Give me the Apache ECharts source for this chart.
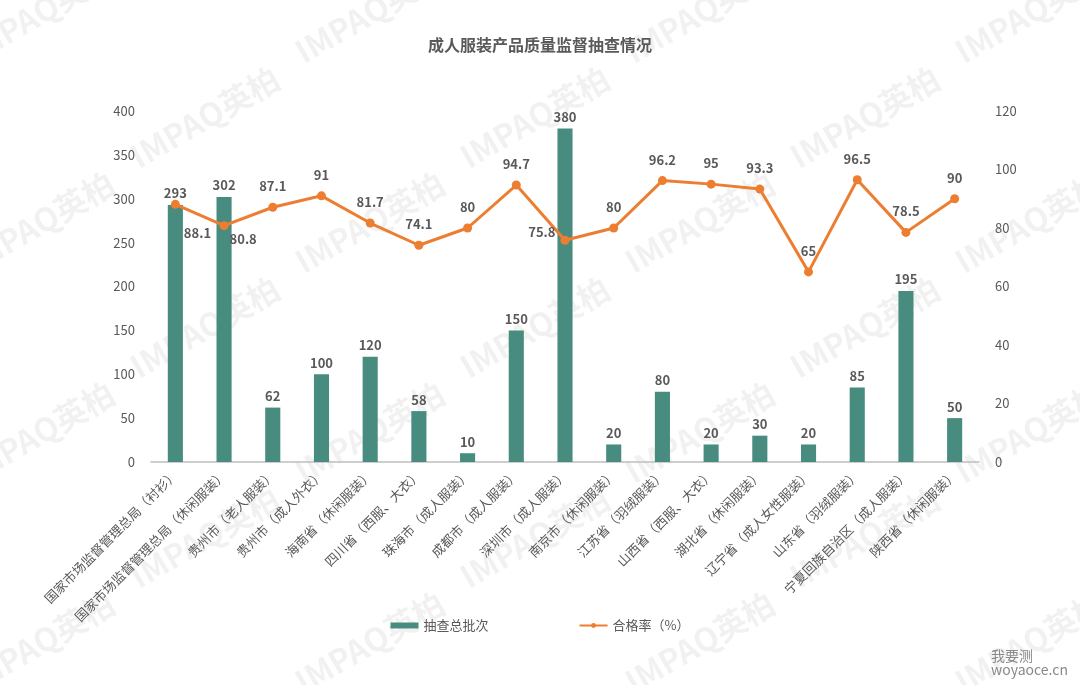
<!DOCTYPE html>
<html>
<head>
<meta charset="utf-8">
<title>成人服装产品质量监督抽查情况</title>
<script src="https://cdn.jsdelivr.net/npm/echarts@6/dist/echarts.min.js"></script>
<style>
  html, body { margin: 0; padding: 0; background: #fff; }
  #chart { width: 1080px; height: 685px; }
</style>
</head>
<body>
<div id="chart"></div>
<script>
const categories = [
  "国家市场监督管理总局（衬衫）",
  "国家市场监督管理总局（休闲服装）",
  "贵州市（老人服装）",
  "贵州市（成人外衣）",
  "海南省（休闲服装）",
  "四川省（西服、大衣）",
  "珠海市（成人服装）",
  "成都市（成人服装）",
  "深圳市（成人服装）",
  "南京市（休闲服装）",
  "江苏省（羽绒服装）",
  "山西省（西服、大衣）",
  "湖北省（休闲服装）",
  "辽宁省（成人女性服装）",
  "山东省（羽绒服装）",
  "宁夏回族自治区（成人服装）",
  "陕西省（休闲服装）"
];
const batchCounts = [293, 302, 62, 100, 120, 58, 10, 150, 380, 20, 80, 20, 30, 20, 85, 195, 50];
const passRates = [88.1, 80.8, 87.1, 91, 81.7, 74.1, 80, 94.7, 75.8, 80, 96.2, 95, 93.3, 65, 96.5, 78.5, 90];

const textColor = "#595959";
const chart = echarts.init(document.getElementById("chart"));

// the few line labels that do not sit above their point
function rateLabel(i) {
  if (i === 0) return { position: "right", distance: 4, offset: [0, 29] };
  if (i === 1) return { position: "right", distance: 1, offset: [0, 13] };
  if (i === 8) return { position: "left", distance: 5, offset: [0, -8] };
  return { position: "top", distance: 10 };
}

// faint watermark, like the original
const marks = [];
for (let row = 0; row < 7; row++) {
  for (let col = 0; col < 5; col++) {
    marks.push({
      type: "text",
      x: col * 330 - 40 + (row % 2) * 165,
      y: row * 105 + 40,
      rotation: Math.PI / 6,
      silent: true,
      z: -10,
      style: {
        text: "IMPAQ英柏",
        fill: "rgba(0,0,0,0.055)",
        font: "bold 32px 'Noto Sans CJK SC', sans-serif"
      }
    });
  }
}
marks.push({
  type: "text",
  right: 12,
  bottom: 8,
  silent: true,
  style: {
    text: "我要测\nwoyaoce.cn",
    fill: "#888",
    font: "14px 'Noto Sans CJK SC', sans-serif",
    align: "center"
  }
});

chart.setOption({
  backgroundColor: "#fff",
  textStyle: { fontFamily: "'Noto Sans CJK SC', sans-serif" },
  title: {
    text: "成人服装产品质量监督抽查情况",
    left: "center",
    top: 32,
    textStyle: { fontSize: 16, fontWeight: "bold", color: textColor }
  },
  graphic: marks,
  legend: {
    bottom: 48,
    left: "center",
    itemGap: 90,
    itemWidth: 28,
    itemHeight: 6,
    textStyle: { fontSize: 13, color: textColor },
    data: [
      { name: "抽查总批次", icon: "rect" },
      { name: "合格率（%）" }
    ]
  },
  grid: {
    left: 151,
    right: 101,
    top: 111,
    bottom: 223
  },
  xAxis: {
    type: "category",
    data: categories,
    axisTick: { show: false },
    axisLine: { lineStyle: { color: "#bfbfbf", width: 1.5 } },
    axisLabel: {
      interval: 0,
      rotate: 45,
      fontSize: 13,
      color: textColor,
      margin: 10
    }
  },
  yAxis: [
    {
      type: "value",
      min: 0,
      max: 400,
      interval: 50,
      splitLine: { show: false },
      axisLine: { show: false },
      axisTick: { show: false },
      axisLabel: { fontSize: 13, color: textColor, margin: 16 }
    },
    {
      type: "value",
      min: 0,
      max: 120,
      interval: 20,
      splitLine: { show: false },
      axisLine: { show: false },
      axisTick: { show: false },
      axisLabel: { fontSize: 13, color: textColor, margin: 16 }
    }
  ],
  series: [
    {
      name: "抽查总批次",
      type: "bar",
      data: batchCounts,
      barWidth: "31%",
      itemStyle: { color: "#488c7f" },
      label: {
        show: true,
        position: "top",
        fontSize: 13,
        fontWeight: "bold",
        color: textColor
      }
    },
    {
      name: "合格率（%）",
      type: "line",
      yAxisIndex: 1,
      data: passRates.map((v, i) => ({ value: v, label: rateLabel(i) })),
      symbol: "circle",
      symbolSize: 9,
      lineStyle: { color: "#ed7d31", width: 3 },
      itemStyle: { color: "#ed7d31" },
      label: {
        show: true,
        fontSize: 13,
        fontWeight: "bold",
        color: textColor
      }
    }
  ]
});
</script>
</body>
</html>
